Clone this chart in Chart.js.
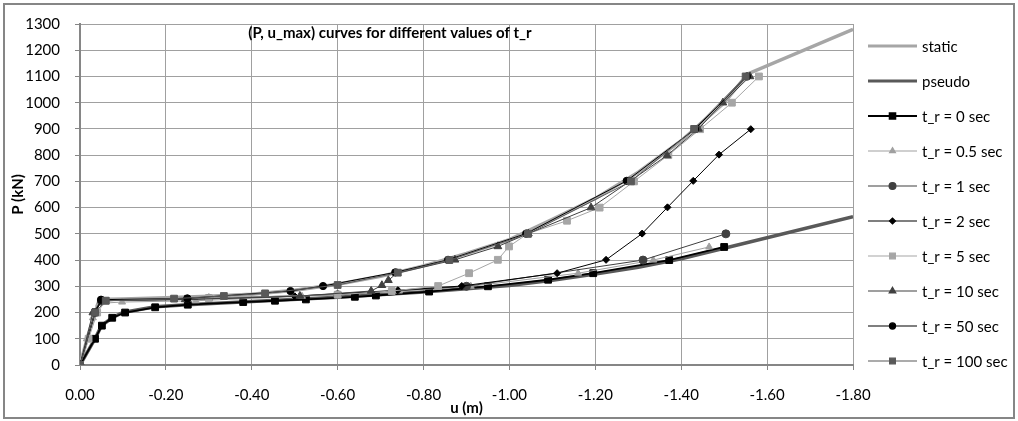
<!DOCTYPE html>
<html>
<head>
<meta charset="utf-8">
<script src="https://cdn.jsdelivr.net/npm/chart.js@4.4.1/dist/chart.umd.min.js"></script>
<style>
html,body{margin:0;padding:0;background:#fff;}
#wrap{width:1018px;height:421px;position:relative;}
</style>
</head>
<body>
<div id="wrap"><canvas id="c" width="1018" height="421"></canvas></div>
<script>
// ---- data (u in m, P in kN) ----
const seriesNames = ["static","pseudo","t_r = 0 sec","t_r = 0.5 sec","t_r = 1 sec","t_r = 2 sec","t_r = 5 sec","t_r = 10 sec","t_r = 50 sec","t_r = 100 sec"];

const staticU = [0,-0.02,-0.045,-0.1,-0.2,-0.3,-0.4,-0.5,-0.6,-0.7,-0.8,-0.9,-1.0,-1.1,-1.2,-1.3,-1.4,-1.5,-1.555,-1.8];
const staticP = [0,120,250,252,256,262,270,285,308,338,378,425,478,555,635,735,855,1000,1110,1280];

const pseudoU = [0,-0.035,-0.05,-0.075,-0.1,-0.175,-0.25,-0.4,-0.6,-0.8,-1.0,-1.1,-1.2,-1.3,-1.4,-1.5,-1.8];
const pseudoP = [0,100,150,180,200,222,230,242,258,278,303,323,347,373,405,445,565];

const tr0U = [0,-0.035,-0.051,-0.075,-0.105,-0.175,-0.251,-0.38,-0.454,-0.526,-0.64,-0.689,-0.813,-0.95,-1.09,-1.195,-1.372,-1.50];
const tr0P = [0,100,150,180,200,220,230,240,245,250,260,265,280,300,325,350,400,450];

const tr05U = [0,-0.016,-0.03,-0.045,-0.098,-0.27,-0.517,-0.743,-0.91,-1.16,-1.335,-1.465];
const tr05P = [0,100,180,235,240,245,262,282,300,350,400,450];

const tr1U = [0,-0.035,-0.05,-0.3,-0.6,-0.9,-1.311,-1.504];
const tr1P = [0,200,245,255,268,300,400,500];

const tr2U = [0,-0.035,-0.05,-0.25,-0.5,-0.74,-0.889,-1.111,-1.225,-1.309,-1.368,-1.428,-1.488,-1.562];
const tr2P = [0,200,245,250,262,285,301,350,401,501,601,702,802,899];

const tr5U = [0,-0.02,-0.04,-0.06,-0.3,-0.6,-0.726,-0.834,-0.906,-0.973,-0.999,-1.043,-1.134,-1.21,-1.29,-1.37,-1.444,-1.518,-1.581];
const tr5P = [0,100,200,245,255,268,282,301,350,401,452,501,550,600,700,800,899,1000,1100];

const tr10U = [0,-0.03,-0.05,-0.245,-0.512,-0.678,-0.703,-0.718,-0.738,-0.873,-0.973,-1.044,-1.19,-1.28,-1.367,-1.44,-1.497,-1.56];
const tr10P = [0,200,245,250,263,282,304,323,350,401,452,501,600,700,799,900,1000,1100];

const tr50U = [0,-0.035,-0.049,-0.25,-0.49,-0.566,-0.734,-0.857,-1.039,-1.273,-1.432,-1.553];
const tr50P = [0,200,249,254,282,301,353,401,501,702,899,1100];

const tr100U = [0,-0.035,-0.06,-0.219,-0.335,-0.431,-0.6,-0.74,-0.86,-1.043,-1.283,-1.43,-1.55];
const tr100P = [0,200,245,253,263,273,305,352,400,500,700,900,1100];

const xTicks = [0,-0.2,-0.4,-0.6,-0.8,-1.0,-1.2,-1.4,-1.6,-1.8];
const yTicks = [0,100,200,300,400,500,600,700,800,900,1000,1100,1200,1300];

function pts(u,p){ return u.map((v,i)=>({x:v,y:p[i]})); }

const FONT = "Lato, 'Liberation Sans', sans-serif";

function ds(label,u,p,color,lw,style,rad,order){
  return {label, data:pts(u,p), borderColor:color, backgroundColor:color,
    borderWidth:lw, pointStyle:style||false, pointRadius:style?rad:0,
    pointBorderColor:color, pointBackgroundColor:color, pointBorderWidth:1,
    showLine:true, tension:0, order};
}

const datasets = [
  ds(seriesNames[0],staticU,staticP,'#a6a6a6',3.5,null,0,20),
  ds(seriesNames[1],pseudoU,pseudoP,'#595959',3.5,null,0,19),
  ds(seriesNames[2],tr0U,tr0P,'#000000',1.8,'rect',4.8,10),
  ds(seriesNames[3],tr05U,tr05P,'#a0a0a0',1,'triangle',4,9),
  ds(seriesNames[4],tr1U,tr1P,'#404040',1,'circle',4,8),
  ds(seriesNames[5],tr2U,tr2P,'#000000',1,'rectRot',3.5,7),
  ds(seriesNames[6],tr5U,tr5P,'#a6a6a6',1,'rect',4.8,6),
  ds(seriesNames[7],tr10U,tr10P,'#404040',1,'triangle',4.5,5),
  ds(seriesNames[8],tr50U,tr50P,'#000000',1,'circle',3.6,4),
  ds(seriesNames[9],tr100U,tr100P,'#595959',1,'rect',4.8,3)
];

const framePlugin = {
  id:'frame',
  beforeDraw(chart){
    const ctx = chart.ctx;
    ctx.save();
    ctx.fillStyle='#fff';
    ctx.fillRect(0,0,chart.width,chart.height);
    ctx.strokeStyle='#868686';
    ctx.lineWidth=2;
    ctx.strokeRect(4,4,1010,414);
    ctx.restore();
  },
  afterDraw(chart){
    const ctx = chart.ctx;
    ctx.save();
    // title inside the plot
    ctx.font = "bold 15px " + FONT;
    ctx.fillStyle = '#000';
    ctx.textAlign = 'center';
    ctx.textBaseline = 'middle';
    ctx.fillText("(P, u_max) curves for different values of t_r", 390, 33);
    // legend
    const x0 = 868, x1 = 917, tx = 922;
    ctx.font = "15px " + FONT;
    ctx.textAlign = 'left';
    chart.data.datasets.forEach((d,i)=>{
      const yy = 46 + i*35;
      ctx.strokeStyle = d.borderColor;
      ctx.lineWidth = i<2 ? 3 : (i===2?1.8:1.2);
      ctx.beginPath(); ctx.moveTo(x0,yy); ctx.lineTo(x1,yy); ctx.stroke();
      if (d.pointStyle){
        ctx.fillStyle = d.pointBackgroundColor;
        ctx.strokeStyle = d.pointBorderColor;
        Chart.helpers.drawPoint(ctx,{pointStyle:d.pointStyle,radius:d.pointRadius*0.85,rotation:0,borderWidth:1},(x0+x1)/2,yy);
      }
      ctx.fillStyle = '#000';
      ctx.fillText(d.label, tx, yy+1);
    });
    ctx.restore();
  }
};

new Chart(document.getElementById('c'), {
  type:'scatter',
  data:{datasets},
  options:{
    responsive:false,
    animation:false,
    layout:{padding:{left:0,top:15,right:165,bottom:0}},
    plugins:{legend:{display:false}, title:{display:false}, tooltip:{enabled:false}},
    scales:{
      x:{
        type:'linear', min:-1.8, max:0, reverse:true,
        afterFit(s){ s.height = 56; },
        afterBuildTicks(s){ s.ticks = xTicks.map(v=>({value:v})); },
        grid:{color:'#a0a0a0', lineWidth:1, tickLength:5, tickColor:'#868686'},
        border:{color:'#868686', width:2},
        ticks:{padding:16, color:'#000', font:{family:FONT,size:15}, maxRotation:0,
          callback:(v)=>Number(v).toFixed(2)},
        title:{display:true, text:'u (m)', color:'#000', font:{family:FONT,size:15,weight:'bold'}, padding:{top:0,bottom:4}}
      },
      y:{
        type:'linear', min:0, max:1300,
        afterFit(s){ s.width = 80; },
        afterBuildTicks(s){ s.ticks = yTicks.map(v=>({value:v})); },
        grid:{color:'#a0a0a0', lineWidth:1, tickLength:5, tickColor:'#868686'},
        border:{color:'#868686', width:2},
        ticks:{padding:15, color:'#000', font:{family:FONT,size:15}, callback:(v)=>String(v)},
        title:{display:true, text:'P (kN)', color:'#000', font:{family:FONT,size:15,weight:'bold'}, padding:{top:9,bottom:0}}
      }
    }
  },
  plugins:[framePlugin]
});
</script>
</body>
</html>
